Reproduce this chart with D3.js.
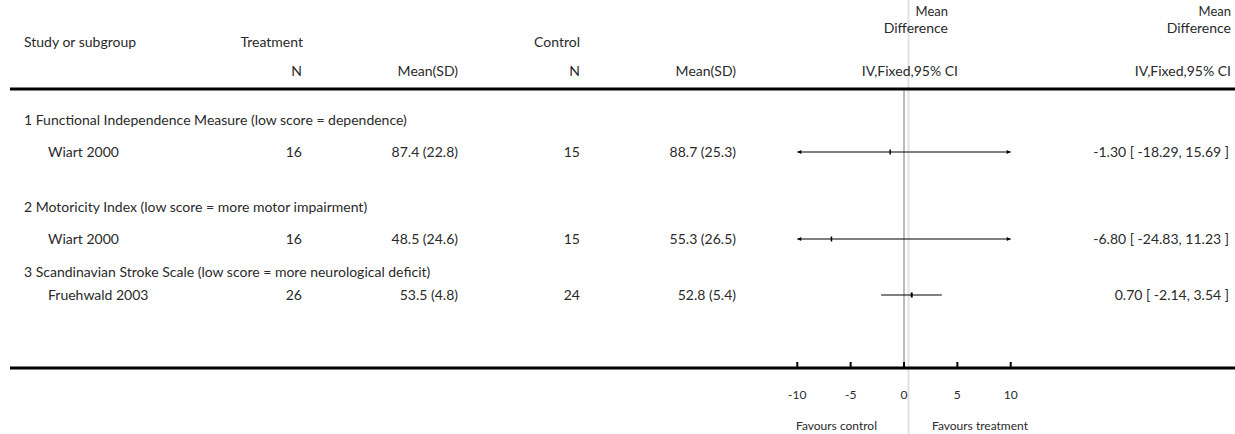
<!DOCTYPE html>
<html>
<head>
<meta charset="utf-8">
<script src="https://cdn.jsdelivr.net/npm/d3@7"></script>
<style>
  body { margin: 0; background: #fff; }
  svg text { font-family: Lato, "Open Sans", sans-serif; font-size: 14px; fill: #2a2a2a; }
</style>
</head>
<body>
<div id="canvas"></div>
<script>
"use strict"

let svgWidth = 1235
let svgHeight = 434

/* Data */
let groups = [
    "1 Functional Independence Measure (low score = dependence)",
    "2 Motoricity Index (low score = more motor impairment)",
    "3 Scandinavian Stroke Scale (low score = more neurological deficit)"
]
let studies = ["Wiart 2000", "Wiart 2000", "Fruehwald 2003"]
let treatN = [16, 16, 26]
let treatMean = [87.4, 48.5, 53.5]
let treatSD = [22.8, 24.6, 4.8]
let ctrlN = [15, 15, 24]
let ctrlMean = [88.7, 55.3, 52.8]
let ctrlSD = [25.3, 26.5, 5.4]
let meanDiff = [-1.30, -6.80, 0.70]
let ciLow = [-18.29, -24.83, -2.14]
let ciHigh = [15.69, 11.23, 3.54]
let axisTicks = [-10, -5, 0, 5, 10]

/* row positions */
let rowKeys = ["g0", "s0", "g1", "s1", "g2", "s2"]
let yRow = d3.scaleOrdinal()
    .domain(rowKeys)
    .range([120, 152, 207, 239, 272, 295])

let xScale = d3.scaleLinear()
    .domain([-10, 10])
    .range([797.3, 1010.7])

let svg = d3.select("#canvas")
    .append("svg")
    .attr("width", svgWidth)
    .attr("height", svgHeight)

/* light grey line through the whole figure */
svg.append("line")
    .attr("x1", 908.5).attr("x2", 908.5)
    .attr("y1", 0).attr("y2", svgHeight)
    .attr("stroke", "#e2e2e2")
    .attr("stroke-width", 2)

/* headers */
function label(x, y, txt, anchor, size) {
    return svg.append("text")
        .attr("x", x)
        .attr("y", y)
        .attr("dy", "0.35em")
        .attr("text-anchor", anchor || "start")
        .style("font-size", size ? size + "px" : null)
        .text(txt)
}

label(24, 42, "Study or subgroup")
label(303, 42, "Treatment", "end")
label(580, 42, "Control", "end")
label(302, 71, "N", "end")
label(458, 71, "Mean(SD)", "end")
label(580, 71, "N", "end")
label(736, 71, "Mean(SD)", "end")
label(948, 11, "Mean", "end", 13)
label(948, 28, "Difference", "end")
label(958, 71, "IV,Fixed,95% CI", "end")
label(1231, 11, "Mean", "end", 13)
label(1231, 28, "Difference", "end")
label(1231, 71, "IV,Fixed,95% CI", "end")

/* top rule */
svg.append("line")
    .attr("x1", 10).attr("x2", svgWidth)
    .attr("y1", 89).attr("y2", 89)
    .attr("stroke", "#000").attr("stroke-width", 3)

/* zero line */
svg.append("line")
    .attr("x1", xScale(0)).attr("x2", xScale(0))
    .attr("y1", 90).attr("y2", 368)
    .attr("stroke", "#777").attr("stroke-width", 1)

/* rows */
groups.forEach(function (g, i) {
    label(24, yRow("g" + i), g)
    let y = yRow("s" + i)
    label(48, y, studies[i])
    label(302, y, treatN[i], "end")
    label(458, y, treatMean[i].toFixed(1) + " (" + treatSD[i].toFixed(1) + ")", "end")
    label(580, y, ctrlN[i], "end")
    label(736, y, ctrlMean[i].toFixed(1) + " (" + ctrlSD[i].toFixed(1) + ")", "end")
    label(1229, y, meanDiff[i].toFixed(2) + " [ " + ciLow[i].toFixed(2) + ", " + ciHigh[i].toFixed(2) + " ]", "end")

    let lo = Math.max(ciLow[i], -10)
    let hi = Math.min(ciHigh[i], 10)
    svg.append("line")
        .attr("x1", xScale(lo)).attr("x2", xScale(hi))
        .attr("y1", y).attr("y2", y)
        .attr("stroke", "#000").attr("stroke-width", 1)

    // arrow heads where the interval runs past the axis
    if (ciLow[i] < -10) {
        svg.append("path")
            .attr("d", "M" + xScale(-10) + "," + y + "l4,-2l0,4z")
            .attr("fill", "#000")
    }
    if (ciHigh[i] > 10) {
        svg.append("path")
            .attr("d", "M" + xScale(10) + "," + y + "l-4,-2l0,4z")
            .attr("fill", "#000")
    }

    // point estimate (tiny weight box)
    svg.append("rect")
        .attr("x", xScale(meanDiff[i]) - 0.75)
        .attr("y", y - 2.5)
        .attr("width", i === 2 ? 2 : 1.5)
        .attr("height", 5)
        .attr("fill", "#000")
})

/* bottom rule / axis */
svg.append("line")
    .attr("x1", 10).attr("x2", svgWidth)
    .attr("y1", 368).attr("y2", 368)
    .attr("stroke", "#000").attr("stroke-width", 3)

axisTicks.forEach(function (t) {
    svg.append("line")
        .attr("x1", xScale(t)).attr("x2", xScale(t))
        .attr("y1", 362).attr("y2", 368)
        .attr("stroke", "#000").attr("stroke-width", 2)
    label(xScale(t), 395, t, "middle", 12)
})

label(877, 426, "Favours control", "end", 12)
label(932, 426, "Favours treatment", "start", 12)
</script>
</body>
</html>
